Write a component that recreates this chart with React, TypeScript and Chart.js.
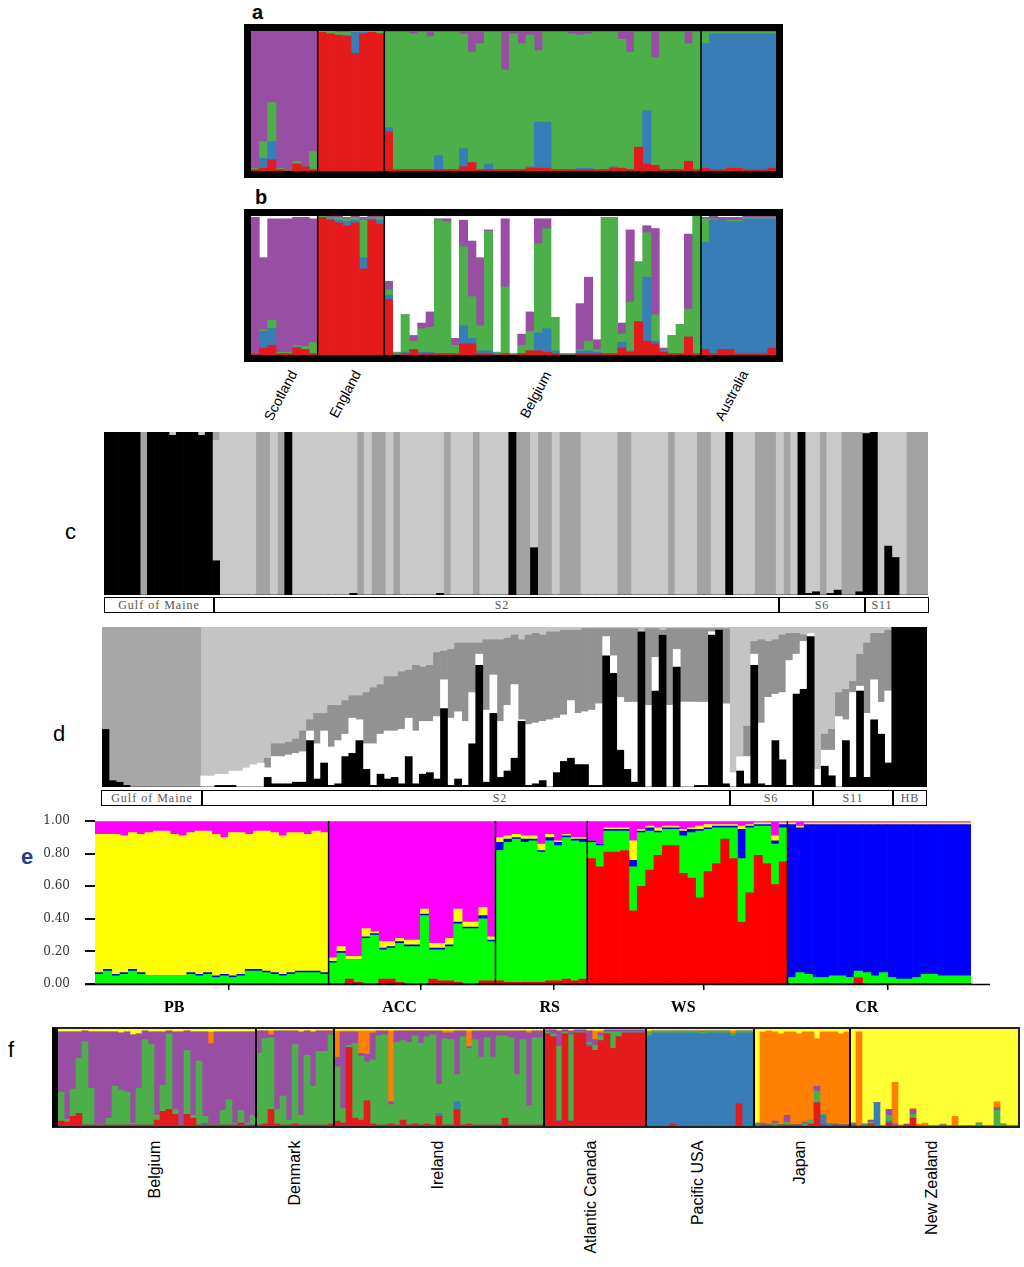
import React, { useEffect, useRef } from 'react';
import { Chart, registerables } from 'chart.js';

Chart.register(...registerables);

const SANS = '"Liberation Sans", Arial, sans-serif';
const SERIF = '"Liberation Serif", "Times New Roman", serif';
const WIDE_SERIF = '"DejaVu Serif", "Liberation Serif", serif';
Chart.defaults.font.family = SANS;

// ---------------- Panel a (Scotland 8, England 8, Belgium 38, Australia 9) ----------------
const abGroupNames = ['Scotland', 'England', 'Belgium', 'Australia'];
const abGroupStarts = [8, 16, 54];
const aRed = [
  .01, .02, .08, .01, 0, .05, .03, .01,
  .99, .98, .97, .96, .84, .98, .99, .98,
  .28, .01, .01, .01, .01, .01, .01, .01, .01, .03, .06, .01, .01, .01, .01, .01, .01, .02, .02, .02, .01, .01, .01, .01, .01, .01, .01, .02, .02, .01, .17, .05, .04, .01, .01, .01, .07, .01,
  .02, .01, .01, .02, .02, .01, .01, .01, .02,
];
const aBlue = [
  0, .07, .13, 0, 0, 0, 0, 0,
  0, 0, 0, .01, .15, .01, 0, 0,
  .03, 0, 0, 0, 0, 0, .10, 0, 0, .13, 0, 0, .04, 0, 0, 0, 0, .01, .33, .33, 0, 0, 0, .01, .01, 0, 0, .01, 0, 0, 0, .38, 0, 0, 0, 0, 0, 0,
  .89, .97, .97, .96, .96, .97, .97, .97, .96,
];
const aGreen = [
  .01, .12, .28, .01, 0, .02, 0, .13,
  .01, .02, .02, .02, .01, .01, .01, .02,
  .68, .98, .98, .97, .98, .95, .88, .98, .98, .82, .79, .90, .94, .98, .71, .97, .90, .94, .51, .64, .98, .98, .97, .95, .96, .98, .98, .96, .92, .84, .82, .56, .77, .98, .98, .98, .84, .98,
  .08, .01, .01, .01, .01, .01, .01, .01, .01,
];
const aPurple = [
  .98, .79, .51, .98, 1, .93, .97, .86,
  0, 0, .01, .01, 0, 0, 0, 0,
  .01, .01, .01, .02, .01, .04, .01, .01, .01, .02, .15, .09, .01, .01, .28, .02, .09, .03, .14, .01, .01, .01, .02, .03, .02, .01, .01, .01, .06, .15, .01, .01, .19, .01, .01, .01, .09, .01,
  .01, .01, .01, .01, .01, .01, .01, .01, .01,
];

// ---------------- Panel b ----------------
const bRed = [
  .01, .05, .07, .01, .01, .05, .04, .01,
  .99, .97, .95, .93, .95, .62, .97, .94,
  .40, 0, .01, .04, .01, .01, .01, .01, .01, .08, .08, .01, .01, 0, .01, 0, .01, .03, .03, .02, .01, 0, 0, .01, .01, .01, .01, .01, .05, .02, .24, .10, .08, .02, .01, .01, .13, .01,
  .04, .01, .04, .04, .01, .01, .01, .01, .05,
];
const bBlue = [
  0, .12, .12, 0, 0, .01, 0, 0,
  0, .01, .02, .03, .02, .08, .01, .03,
  .03, .01, .01, 0, .01, .01, 0, 0, 0, .13, .04, .02, .02, .01, 0, 0, 0, 0, .13, .17, .02, 0, 0, .02, .02, .01, 0, 0, .04, .01, 0, .46, .02, .01, 0, 0, 0, 0,
  .77, .96, .93, .92, .95, .97, .97, .97, .93,
];
const bGreen = [
  0, .01, .06, .01, .01, .01, .02, .08,
  .01, .01, .02, .02, .02, .27, .01, .02,
  .04, .01, .27, .06, .17, .18, .96, .95, .06, .57, .30, .18, .86, .01, .48, .01, .06, .14, .64, .72, .24, .01, .01, .01, .07, .02, .98, .98, .06, .35, .43, .32, .19, 0, .13, .21, .20, .99,
  .17, .01, 0, .01, .01, .01, .01, .01, .01,
];
const bPurple = [
  .98, .52, .73, .96, .96, .92, .93, .89,
  0, .01, .01, .01, .01, .02, .01, .01,
  .06, 0, 0, .04, .04, .11, .01, .02, .05, .19, .40, .49, .01, 0, .49, 0, .08, .14, .18, .07, 0, 0, 0, .33, .46, .07, 0, 0, .08, .52, 0, .05, .62, .02, 0, 0, .54, 0,
  .01, .02, .02, .02, .02, .01, .01, .01, .01,
];
const bWhite = [
  .01, .30, .02, .02, .02, .01, .01, .02,
  0, 0, 0, .01, 0, .01, 0, 0,
  .47, .98, .71, .86, .77, .69, .02, .02, .88, .03, .18, .30, .10, .98, .02, .99, .85, .69, .02, .02, .73, .99, .99, .63, .44, .89, .01, .01, .77, .10, .33, .07, .09, .95, .86, .78, .13, 0,
  .01, 0, .01, .01, .01, 0, 0, 0, 0,
];

// ---------------- Panel c (114 bars: Gulf of Maine 0-14, S2 15-92, S6 93-104, S11 105-113) ----------------
const cGroupNames = ['Gulf of Maine', 'S2', 'S6', 'S11'];
const cBlack = [
  1, 1, 1, 1, 1, 0, 1, 1, 1, .98,
  1, 1, 1, .98, 1, .21, 0, 0, 0, 0,
  0, 0, 0, 0, 0, 1, 0, 0, 0, 0,
  0, 0, 0, 0, .01, 0, 0, 0, 0, 0,
  0, 0, 0, 0, 0, 0, .01, 0, 0, 0,
  0, 0, 0, 0, 0, 0, 1, 0, 0, .29,
  0, 0, 0, 0, 0, 0, 0, 0, 0, 0,
  0, 0, 0, 0, 0, 0, 0, 0, 0, 0,
  0, 0, 0, 0, 0, 0, 1, 0, 0, 0,
  0, 0, 0, 0, 0, 0, 1, .01, .02, 0,
  .01, .03, 0, 0, .02, .99, 1, 0, .3, .23,
  0, 0, 0, 0,
];
const cLight = [
  0, 0, 0, 0, 0, 0, 0, 0, 0, .02,
  0, 0, 0, .02, 0, .74, 1, 1, 1, 1,
  1, 0, 0, 1, 0, 0, 1, 1, 1, 1,
  1, 1, 1, 1, .99, 0, 1, 0, 0, 1,
  0, 1, 1, 1, 1, 1, .99, 0, 1, 1,
  1, 0, 1, 1, 1, 1, 0, 0, 0, .71,
  0, 0, 1, 0, 0, 0, 1, 1, 1, 1,
  1, 0, 0, 1, 1, 1, 1, 1, 0, 1,
  1, 1, 0, 0, 1, 1, 0, 1, 1, 1,
  0, 0, 0, 1, 0, 1, 0, .99, .98, 0,
  .99, .97, 0, 0, 0, .01, 0, 1, .7, .77,
  1, 0, 0, 0,
];
const cDark = [
  0, 0, 0, 0, 0, 1, 0, 0, 0, 0,
  0, 0, 0, 0, 0, .05, 0, 0, 0, 0,
  0, 1, 1, 0, 1, 0, 0, 0, 0, 0,
  0, 0, 0, 0, 0, 1, 0, 1, 1, 0,
  1, 0, 0, 0, 0, 0, 0, 1, 0, 0,
  0, 1, 0, 0, 0, 0, 0, 1, 1, 0,
  1, 1, 0, 1, 1, 1, 0, 0, 0, 0,
  0, 1, 1, 0, 0, 0, 0, 0, 1, 0,
  0, 0, 1, 1, 0, 0, 0, 0, 0, 0,
  1, 1, 1, 0, 1, 0, 0, 0, 0, 1,
  0, 0, 1, 1, .98, 0, 0, 0, 0, 0,
  0, 1, 1, 1,
];

// ---------------- Panel d (117 bars: GoM 0-13, S2 14-88, S6 89-100, S11 101-111, HB 112-116) ----------------
const dGroupNames = ['Gulf of Maine', 'S2', 'S6', 'S11', 'HB'];
const dBlack = [
  .36, .04, .03, .01, 0, 0, 0, 0, 0, 0, 0, 0, 0, 0,
  0, 0, .01, .01, .01, 0, 0, 0, 0, .06, .02, .02, .02, .03, .03, .29, .05, .15, .01, .02, .19, .21, .29, .11, .01, .08, .05, .06, .02, .19, .02, .08, .09, .05, .49, .01, .05, .01, .27, .76, .03, .46, .06, .10, .18, .41, .01, .02, .04, 0, .09, .16, .18, .14, .14, .01, .01, .82, .71, .23, .11, .03, .97, 0, .60, .95, 0, .75, 0, 0, .01, .01, .95, .98, .02,
  0, .10, .02, .76, .02, .01, .29, .17, .01, .58, .61, .94,
  .01, .13, .07, 0, .29, .06, .60, .06, .42, .33, .15,
  1, 1, 1, 1, 1,
];
const dWhite = [
  0, 0, 0, 0, 0, 0, 0, 0, 0, 0, 0, 0, 0, 0,
  .07, .07, .07, .07, .09, .10, .12, .14, .15, .06, .17, .17, .18, .18, .19, .06, .22, .20, .24, .27, .14, .22, .13, .16, .26, .25, .30, .29, .34, .24, .33, .33, .32, .39, .18, .42, .42, .40, .32, .07, .45, .24, .35, .41, .46, .01, .38, .38, .37, .42, .34, .29, .36, .32, .33, .47, .51, .12, .11, .33, .42, .50, 0, .51, .21, 0, .51, .11, .53, .53, .52, .52, .02, 0, .50,
  .09, .09, .17, .07, .38, .55, .29, .42, .78, .25, .30, .02,
  .10, .10, .16, .44, .13, .53, .03, .40, .25, .20, .45,
  0, 0, 0, 0, 0,
];
const dDark = [
  0, 0, 0, 0, 0, 0, 0, 0, 0, 0, 0, 0, 0, 0,
  0, 0, 0, 0, 0, 0, 0, 0, 0, .06, .08, .08, .08, .09, .13, .07, .19, .11, .26, .22, .21, .14, .15, .32, .35, .31, .34, .34, .36, .30, .41, .34, .35, .40, .18, .43, .43, .49, .31, .07, .44, .22, .51, .42, .31, .50, .56, .56, .54, .55, .54, .53, .44, .52, .52, .51, .47, .05, .17, .43, .46, .46, 0, .48, .18, .03, .48, .13, .46, .46, .46, .46, .02, .01, .47,
  0, 0, .19, .08, .52, .35, .34, .36, .17, .13, .04, 0,
  0, .10, .13, .15, .19, .07, .20, .44, .29, .43, .38,
  0, 0, 0, 0, 0,
];
const dMid = [.64, .96, .97, .99, 1, 1, 1, 1, 1, 1, 1, 1, 1, 1];
const dLight = [
  0, 0, 0, 0, 0, 0, 0, 0, 0, 0, 0, 0, 0, 0,
  .93, .93, .92, .92, .90, .90, .88, .86, .85, .82, .73, .73, .72, .70, .65, .58, .54, .54, .49, .49, .46, .43, .43, .41, .38, .36, .31, .31, .28, .27, .24, .25, .24, .16, .15, .14, .10, .10, .10, .10, .08, .08, .08, .07, .05, .08, .05, .04, .05, .03, .03, .02, .02, .02, .01, .01, .01, .01, .01, .01, .01, .01, .03, .01, .01, .02, .01, .01, .01, .01, .01, .01, .01, .01, .01,
  .91, .81, .62, .09, .08, .09, .08, .05, .04, .04, .05, .04,
  .89, .67, .64, .41, .39, .34, .17, .10, .04, .04, .02,
  0, 0, 0, 0, 0,
];

// ---------------- Panel e (PB 28, ACC 20, RS 11, WS 24, CR 22) ----------------
const eGroupNames = ['PB', 'ACC', 'RS', 'WS', 'CR'];
const eGroupStarts = [28, 48, 59, 83];
const eLabelBar = [9, 36, 54, 70, 92];
const eTickBar = [16, 39, 55, 73, 95];
const eYTicks = [0, 0.2, 0.4, 0.6, 0.8, 1.0];
const eRed = [
  0, 0, 0, 0, 0, 0, 0, 0, 0, 0, 0, 0, 0, 0, 0, 0, 0, 0, 0, 0, 0, 0, 0, 0, 0, 0, 0, 0,
  0, 0, .03, .01, 0, 0, .03, .03, .01, 0, 0, 0, .03, .02, .02, .01, 0, 0, .02, .02,
  .02, .01, .01, .01, .01, .01, .02, .02, .03, .02, .03,
  .77, .72, .81, .81, .82, .45, .60, .70, .79, .85, .85, .68, .65, .53, .69, .74, .89, .77, .38, .56, .79, .74, .61, .75,
  0, 0, 0, 0, 0, 0, 0, 0, .04, 0, 0, 0, 0, 0, 0, 0, 0, 0, 0, 0, 0, 0,
];
const eGreen = [
  .06, .08, .05, .06, .08, .06, .05, .05, .05, .05, .05, .06, .05, .06, .04, .05, .04, .05, .08, .08, .07, .06, .05, .06, .07, .07, .07, .06,
  .13, .19, .12, .14, .28, .30, .18, .19, .24, .23, .23, .42, .18, .19, .21, .36, .34, .34, .38, .24,
  .80, .86, .88, .86, .87, .80, .86, .83, .87, .86, .84,
  .10, .13, .13, .13, .12, .27, .33, .24, .14, .10, .10, .23, .28, .41, .26, .22, .07, .19, .39, .40, .18, .23, .25, .21,
  .04, .07, .06, .04, .04, .05, .05, .04, .04, .07, .05, .07, .04, .03, .03, .04, .06, .06, .05, .05, .05, .05,
];
const eBlue = [
  .01, .01, .01, .01, .01, .01, 0, 0, 0, 0, 0, .01, .01, .01, .01, .01, .01, .01, .01, .01, .01, .01, .01, .01, .01, .01, .01, .01,
  .01, .01, 0, 0, .01, .01, .01, .01, .01, .01, .01, .01, .01, .01, .01, .01, .01, .01, .02, .01,
  .05, .02, .01, .02, .01, .01, .02, .02, .01, .01, .02,
  .01, .01, .01, .01, .01, .04, .01, .02, .01, .01, .01, .03, .02, .01, .01, .01, .01, .01, .18, .01, .01, .01, .02, .02,
  .94, .89, .92, .94, .94, .93, .93, .94, .90, .91, .93, .91, .94, .95, .95, .94, .92, .92, .93, .93, .93, .93,
];
const eYellow = [
  .85, .83, .86, .84, .84, .85, .88, .89, .89, .87, .86, .86, .88, .87, .87, .84, .88, .87, .83, .85, .86, .86, .85, .86, .85, .84, .86, .86,
  .02, .03, .02, .02, .05, .01, .04, .03, .02, .03, .03, .03, .03, .03, .04, .08, .03, .03, .05, .02,
  .03, .02, .02, .02, .02, .04, .02, .01, .01, .01, .01,
  0, 0, .01, .01, .01, .12, .01, .01, .02, .01, .01, .01, .01, .02, .02, .01, .01, .01, .02, .01, .01, .01, .03, .01,
  .01, .01, .01, .01, .01, .01, .01, .01, .01, .01, .01, .01, .01, .01, .01, .01, .01, .01, .01, .01, .01, .01,
];
const eMagenta = [
  .08, .08, .08, .09, .07, .08, .07, .06, .06, .08, .09, .07, .06, .06, .08, .10, .07, .07, .08, .06, .06, .07, .09, .07, .07, .08, .06, .07,
  .84, .77, .83, .83, .66, .68, .74, .74, .72, .73, .73, .54, .75, .75, .72, .54, .62, .62, .53, .71,
  .10, .09, .08, .09, .09, .14, .08, .12, .08, .10, .10,
  .12, .14, .04, .04, .04, .12, .05, .03, .04, .03, .03, .05, .04, .03, .02, .02, .02, .02, .03, .02, .01, .01, .09, .01,
  .01, .03, .01, .01, .01, .01, .01, .01, .01, .01, .01, .01, .01, .01, .01, .01, .01, .01, .01, .01, .01, .01,
];

// ---------------- Panel f (Belgium 33, Denmark 13, Ireland 35, Atl. Canada 17, Pacific USA 18, Japan 16, NZ 28) ----------------
const fGroupNames = ['Belgium', 'Denmark', 'Ireland', 'Atlantic Canada', 'Pacific USA', 'Japan', 'New Zealand'];
const fGroupStarts = [33, 46, 81, 98, 116, 132];
const fRed = [
  .05, .04, .10, .13, .01, .01, .01, .01, .01, .01, .01, .01, .01, .01, .01, .01, .06, .15, .17, .12, .01, .12, .08, .01, .01, .01, .01, .01, .01, .01, .03, .01, .01,
  .01, .02, .17, .02, .01, .01, .02, .01, .01, .01, .01, .01, .02,
  .05, .03, .81, .08, .06, .26, .02, .01, .01, .02, .01, .06, .01, .02, .01, .02, .01, .10, .01, .01, .17, .01, .02, .01, .01, .01, .01, .01, .08, .01, .01, .01, .01, .01, .01,
  .95, .92, .05, .95, .05, .96, .96, .82, .78, .88, .95, .80, .92, .96, .96, .96, .96,
  0, 0, 0, 0, .02, 0, 0, 0, 0, 0, 0, 0, 0, 0, 0, .23, 0, 0,
  0, .01, .01, 0, .01, .01, .01, .01, 0, .02, .24, .01, 0, .01, .01, .01,
  .01, 0, 0, .02, 0, 0, .03, 0, 0, .01, .08, 0, 0, 0, 0, 0, 0, 0, 0, 0, 0, 0, 0, 0, 0, 0, 0, 0,
];
const fBlue = [
  0, 0, 0, 0, 0, 0, 0, 0, 0, 0, 0, 0, 0, 0, 0, 0, 0, 0, 0, 0, 0, 0, 0, 0, .02, 0, 0, 0, 0, 0, 0, 0, 0,
  0, 0, 0, 0, 0, 0, 0, 0, 0, 0, 0, 0, 0,
  0, 0, 0, 0, 0, 0, 0, 0, 0, 0, 0, 0, 0, 0, 0, 0, 0, .03, 0, 0, .08, 0, 0, 0, 0, 0, 0, 0, 0, 0, 0, 0, 0, 0, 0,
  0, 0, .01, 0, 0, 0, 0, .02, 0, 0, 0, 0, 0, 0, 0, 0, 0,
  .93, .96, .96, .96, .94, .96, .96, .96, .96, .95, .96, .96, .96, .96, .93, .73, .96, .96,
  .01, .01, 0, .01, 0, 0, 0, 0, 0, 0, 0, .10, .02, .01, 0, 0,
  .01, 0, .01, 0, .24, 0, .02, 0, 0, 0, 0, 0, 0, 0, 0, .01, 0, 0, 0, 0, 0, 0, 0, 0, 0, 0, 0, 0,
];
const fGreen = [
  .30, .03, .28, .57, .86, .38, .01, .01, .07, .40, .36, .34, .02, .38, .88, .83, .05, .27, .78, .05, .01, .66, .03, .66, .07, .01, .01, .15, .26, .02, .13, .02, .10,
  .74, .88, .74, .15, .30, .05, .82, .10, .72, .40, .76, .76, .92,
  .56, .15, .02, .77, .66, .40, .66, .92, .93, .20, .85, .82, .85, .91, .84, .90, .93, .30, .89, .88, .28, .91, .78, .88, .70, .90, .70, .92, .85, .90, .52, .88, .20, .90, .90,
  .02, .03, .76, .02, .89, .01, .01, .02, .05, .05, .02, .17, .05, .01, .01, .01, .01,
  .03, .02, .02, .02, .02, .02, .02, .02, .02, .02, .02, .02, .02, .02, .02, .02, .02, .02,
  .01, 0, .01, .02, 0, .03, 0, 0, .02, .04, .12, .01, 0, 0, 0, 0,
  .01, 0, .01, .02, 0, 0, .06, 0, 0, 0, .04, 0, 0, 0, 0, 0, 0, 0, 0, 0, 0, .03, 0, 0, .16, .02, 0, 0,
];
const fPurple = [
  .62, .90, .59, .27, .11, .58, .95, .95, .89, .56, .59, .62, .91, .56, .09, .13, .86, .55, .03, .80, .95, .20, .86, .30, .87, .83, .95, .81, .70, .94, .81, .94, .86,
  .23, .08, .03, .81, .67, .92, .14, .86, .25, .56, .21, .21, .04,
  .10, .79, .14, .12, .03, .08, .28, .05, .04, .03, .12, .10, .12, .05, .13, .06, .04, .55, .06, .07, .45, .06, .02, .09, .27, .07, .27, .05, .05, .07, .45, .09, .75, .07, .07,
  .02, .04, .16, .02, .04, .02, .02, .12, .06, .03, .02, .02, .02, .02, .02, .02, .02,
  0, 0, 0, 0, 0, 0, 0, 0, 0, .01, 0, 0, 0, 0, 0, 0, 0, 0,
  .01, .01, 0, .02, 0, .07, 0, 0, .02, 0, .05, 0, 0, 0, 0, 0,
  0, 0, 0, .02, 0, 0, .06, .02, 0, .01, .05, 0, 0, 0, 0, 0, 0, 0, 0, 0, 0, 0, 0, 0, .03, 0, 0, 0,
];
const fOrange = [
  0, 0, 0, 0, 0, 0, 0, 0, 0, 0, 0, 0, 0, 0, 0, 0, 0, 0, 0, 0, 0, 0, 0, 0, 0, .12, 0, 0, 0, 0, 0, 0, 0,
  0, 0, .04, 0, 0, 0, 0, 0, 0, 0, 0, 0, 0,
  .27, .01, .01, .01, .23, .24, .02, 0, 0, .73, 0, 0, 0, 0, 0, 0, 0, 0, .02, .02, 0, 0, .16, 0, 0, 0, 0, 0, 0, 0, 0, 0, .02, 0, 0,
  0, 0, 0, 0, 0, 0, 0, 0, .09, .02, 0, 0, 0, 0, 0, 0, 0,
  .02, 0, 0, 0, 0, 0, 0, 0, 0, 0, 0, 0, 0, 0, .03, 0, 0, 0,
  0, .94, .96, .92, .94, .86, .96, .94, .93, .91, .49, .85, .95, .95, .94, .96,
  0, .97, 0, 0, 0, 0, 0, .43, .01, 0, .01, .02, .03, 0, 0, .01, 0, .10, 0, 0, 0, 0, 0, 0, .06, 0, 0, 0,
];
const fYellow = [
  .03, .03, .03, .03, .02, .03, .03, .03, .03, .03, .04, .03, .06, .05, .02, .03, .03, .03, .02, .03, .03, .02, .03, .03, .03, .03, .03, .03, .03, .03, .03, .03, .03,
  .02, .02, .02, .02, .02, .02, .02, .03, .02, .03, .02, .02, .02,
  .02, .02, .02, .02, .02, .02, .02, .02, .02, .02, .02, .02, .02, .02, .02, .02, .02, .02, .02, .02, .02, .02, .02, .02, .02, .02, .02, .02, .02, .02, .02, .02, .02, .02, .02,
  .01, .01, .02, .01, .02, .01, .01, .02, .02, .02, .01, .01, .01, .01, .01, .01, .01,
  .02, .02, .02, .02, .02, .02, .02, .02, .02, .02, .02, .02, .02, .02, .02, .02, .02, .02,
  .97, .03, .02, .03, .05, .03, .03, .05, .03, .03, .10, .03, .03, .03, .05, .03,
  .97, .03, .98, .94, .76, 1, .83, .55, .99, .98, .82, .98, .97, 1, 1, .98, 1, .90, 1, 1, 1, .97, 1, 1, .75, .98, 1, 1,
];

// ---------------- colours ----------------
const C = {
  red: '#e41a1c', blue: '#377eb8', green: '#4daf4a', purple: '#984ea3', orange: '#ff7f00', yellow: '#ffff33',
};

function sepPlugin(bounds: number[], lw: number) {
  return {
    id: 'groupSeparators',
    afterDatasetsDraw(chart: any) {
      const xs = chart.scales.x;
      const { top, bottom } = chart.chartArea;
      const ctx = chart.ctx;
      ctx.save();
      ctx.strokeStyle = '#000';
      ctx.lineWidth = lw;
      for (const b of bounds) {
        const x = (xs.getPixelForValue(b - 1) + xs.getPixelForValue(b)) / 2;
        ctx.beginPath();
        ctx.moveTo(x, top);
        ctx.lineTo(x, bottom);
        ctx.stroke();
      }
      ctx.restore();
    },
  };
}

function makeDatasets(series: any[]) {
  return series.map((s) => ({
    label: s.name,
    data: s.data,
    backgroundColor: s.color,
    borderWidth: 0,
    barPercentage: 1,
    categoryPercentage: 1,
  }));
}

function StructurePlot(props: any) {
  const { left, top, width, height, series, bounds, sepWidth } = props;
  const ref = useRef<HTMLCanvasElement>(null);
  useEffect(() => {
    const n = series[0].data.length;
    const labels = Array.from({ length: n }, (_, i) => String(i + 1));
    const chart = new Chart(ref.current as HTMLCanvasElement, {
      type: 'bar',
      data: { labels, datasets: makeDatasets(series) as any },
      options: {
        responsive: false,
        animation: false,
        events: [],
        layout: { padding: 0 },
        plugins: { legend: { display: false }, tooltip: { enabled: false } },
        scales: {
          x: { display: false, stacked: true },
          y: { display: false, stacked: true, min: 0, max: 1 },
        },
      } as any,
      plugins: bounds ? [sepPlugin(bounds, sepWidth || 1.5)] : [],
    });
    return () => chart.destroy();
  }, []);
  return (
    <canvas ref={ref} width={width} height={height}
      style={{ position: 'absolute', left, top, width, height, display: 'block' }} />
  );
}

function PanelE() {
  const ref = useRef<HTMLCanvasElement>(null);
  useEffect(() => {
    const n = eRed.length;
    const labels = Array.from({ length: n }, (_, i) => {
      const k = eLabelBar.indexOf(i);
      return k >= 0 ? eGroupNames[k] : '';
    });
    const series = [
      { name: 'red', data: eRed, color: '#ff0000' },
      { name: 'green', data: eGreen, color: '#00ff00' },
      { name: 'blue', data: eBlue, color: '#0000ff' },
      { name: 'yellow', data: eYellow, color: '#ffff00' },
      { name: 'magenta', data: eMagenta, color: '#ff00ff' },
    ];
    const axisExt = {
      id: 'axisExt',
      afterDraw(chart: any) {
        const { left, right, bottom } = chart.chartArea;
        const ctx = chart.ctx;
        ctx.save();
        ctx.strokeStyle = '#000';
        ctx.lineWidth = 1.5;
        ctx.beginPath();
        ctx.moveTo(left - 10, bottom + 0.5);
        ctx.lineTo(right + 19, bottom + 0.5);
        ctx.stroke();
        ctx.restore();
      },
    };
    const chart = new Chart(ref.current as HTMLCanvasElement, {
      type: 'bar',
      data: { labels, datasets: makeDatasets(series) as any },
      options: {
        responsive: false,
        animation: false,
        events: [],
        layout: { padding: { top: 0, right: 20, left: 0, bottom: 0 } },
        plugins: { legend: { display: false }, tooltip: { enabled: false } },
        scales: {
          x: {
            stacked: true,
            grid: {
              drawOnChartArea: false,
              drawTicks: true,
              tickLength: 6,
              lineWidth: 1.5,
              color: (c: any) => (eTickBar.indexOf(c.index) >= 0 ? '#000' : 'rgba(0,0,0,0)'),
            },
            border: { display: true, color: '#000', width: 1.5 },
            ticks: {
              autoSkip: false, maxRotation: 0, minRotation: 0, padding: 8, color: '#000',
              font: { family: SERIF, size: 16, weight: 'bold' },
              callback: (_v: any, i: number) => labels[i],
            },
            afterFit: (s: any) => { s.height = 35; },
          },
          y: {
            stacked: true, min: 0, max: 1,
            afterBuildTicks: (s: any) => { s.ticks = eYTicks.map((v) => ({ value: v })); },
            ticks: {
              callback: (v: any) => Number(v).toFixed(2),
              font: { family: WIDE_SERIF, size: 12 },
              color: '#333',
              padding: 15,
            },
            grid: { drawOnChartArea: false, drawTicks: true, tickLength: 10, lineWidth: 2, color: '#111' },
            border: { display: true, color: '#999', width: 1 },
            afterFit: (s: any) => { s.width = 55; },
          },
        },
      } as any,
      plugins: [sepPlugin(eGroupStarts, 1.5), axisExt],
    });
    return () => chart.destroy();
  }, []);
  return (
    <canvas ref={ref} width={951} height={220}
      style={{ position: 'absolute', left: 40, top: 799, width: 951, height: 220, display: 'block' }} />
  );
}

function RotLabel({ text, x, y, angle, size }: any) {
  return (
    <div style={{ position: 'absolute', left: x, top: y, width: 0, height: 0 }}>
      <span style={{
        position: 'absolute', right: 0, top: -(size * 0.6), lineHeight: `${size * 1.2}px`,
        whiteSpace: 'nowrap', transformOrigin: 'right center', transform: `rotate(${angle}deg)`,
        fontFamily: SANS, fontSize: size, color: '#000',
      }}>{text}</span>
    </div>
  );
}

function BoxRow({ names, edges, centers, top, height }: any) {
  return (
    <>
      {names.map((nm: string, i: number) => (
        <div key={'b' + i} style={{
          position: 'absolute', left: edges[i], top, width: edges[i + 1] - edges[i], height,
          border: '1.5px solid #000', boxSizing: 'border-box', background: '#fff',
        }} />
      ))}
      {names.map((nm: string, i: number) => (
        <div key={'t' + i} style={{
          position: 'absolute', left: centers[i] - 60, width: 120, top: top + 1, height: height - 2,
          textAlign: 'center', fontFamily: SERIF, fontSize: 12, lineHeight: `${height - 2}px`,
          color: '#555', letterSpacing: '1px', whiteSpace: 'nowrap',
        }}>{nm}</div>
      ))}
    </>
  );
}

const letterStyle = (left: number, top: number, size: number, bold: boolean, color = '#000'): any => ({
  position: 'absolute', left, top, fontFamily: SANS, fontSize: size, lineHeight: `${size}px`,
  fontWeight: bold ? 'bold' : 'normal', color,
});

export default function App() {
  const aSeries = [
    { name: 'red', data: aRed, color: C.red },
    { name: 'blue', data: aBlue, color: C.blue },
    { name: 'green', data: aGreen, color: C.green },
    { name: 'purple', data: aPurple, color: C.purple },
  ];
  const bSeries = [
    { name: 'red', data: bRed, color: C.red },
    { name: 'blue', data: bBlue, color: C.blue },
    { name: 'green', data: bGreen, color: C.green },
    { name: 'purple', data: bPurple, color: C.purple },
    { name: 'unassigned', data: bWhite, color: '#ffffff' },
  ];
  const cSeries = [
    { name: 'black', data: cBlack, color: '#000000' },
    { name: 'light', data: cLight, color: '#c9c9c9' },
    { name: 'dark', data: cDark, color: '#a3a3a3' },
  ];
  const dSeries = [
    { name: 'black', data: dBlack, color: '#000000' },
    { name: 'white', data: dWhite, color: '#ffffff' },
    { name: 'dark', data: dDark, color: '#929292' },
    { name: 'mid', data: dMid, color: '#a7a7a7' },
    { name: 'light', data: dLight, color: '#c4c4c4' },
  ];
  const fSeries = [
    { name: 'red', data: fRed, color: C.red },
    { name: 'blue', data: fBlue, color: C.blue },
    { name: 'green', data: fGreen, color: C.green },
    { name: 'purple', data: fPurple, color: C.purple },
    { name: 'orange', data: fOrange, color: C.orange },
    { name: 'yellow', data: fYellow, color: C.yellow },
  ];
  const abAnchors = [[293, 371], [357, 371], [548, 372], [744, 371]];
  const fCenters = [155, 295, 438, 591, 697, 800, 931];

  return (
    <div style={{ position: 'absolute', left: 0, top: 0, width: 1024, height: 1267, background: '#fff', overflow: 'hidden' }}>
      {/* panel a */}
      <div style={letterStyle(252, 2, 20, true)}>a</div>
      <div style={{ position: 'absolute', left: 244, top: 24, width: 539, height: 154, background: '#000' }} />
      <StructurePlot left={251} top={31} width={525} height={140} series={aSeries} bounds={abGroupStarts} sepWidth={1.5} />

      {/* panel b */}
      <div style={letterStyle(255, 187, 20, true)}>b</div>
      <div style={{ position: 'absolute', left: 244, top: 209, width: 539, height: 153, background: '#000' }} />
      <StructurePlot left={251} top={216} width={525} height={139} series={bSeries} bounds={abGroupStarts} sepWidth={1.5} />
      {abGroupNames.map((t, i) => (
        <RotLabel key={t} text={t} x={abAnchors[i][0]} y={abAnchors[i][1]} angle={-62} size={14} />
      ))}

      {/* panel c */}
      <div style={letterStyle(65, 521, 22, false)}>c</div>
      <StructurePlot left={104} top={432} width={824} height={163} series={cSeries} />
      <BoxRow names={cGroupNames} edges={[104, 214, 779, 865, 929]} centers={[159, 502, 822, 882]} top={597} height={16} />

      {/* panel d */}
      <div style={letterStyle(53, 723, 22, false)}>d</div>
      <StructurePlot left={102} top={627} width={825} height={160} series={dSeries} />
      <BoxRow names={dGroupNames} edges={[101, 202, 730, 813, 893, 927]} centers={[152, 500, 771, 853, 910]} top={790} height={16} />

      {/* panel e */}
      <div style={letterStyle(21, 846, 22, true, '#1f3f8a')}>e</div>
      <PanelE />

      {/* panel f */}
      <div style={letterStyle(8, 1039, 22, false)}>f</div>
      <div style={{ position: 'absolute', left: 52, top: 1027, width: 968, height: 101, boxSizing: 'border-box', border: '2px solid #222', borderLeft: '6px solid #000' }} />
      <StructurePlot left={58} top={1029} width={960} height={97} series={fSeries} bounds={fGroupStarts} sepWidth={2} />
      {fGroupNames.map((t, i) => (
        <RotLabel key={t} text={t} x={fCenters[i]} y={1141} angle={-90} size={16} />
      ))}
    </div>
  );
}
